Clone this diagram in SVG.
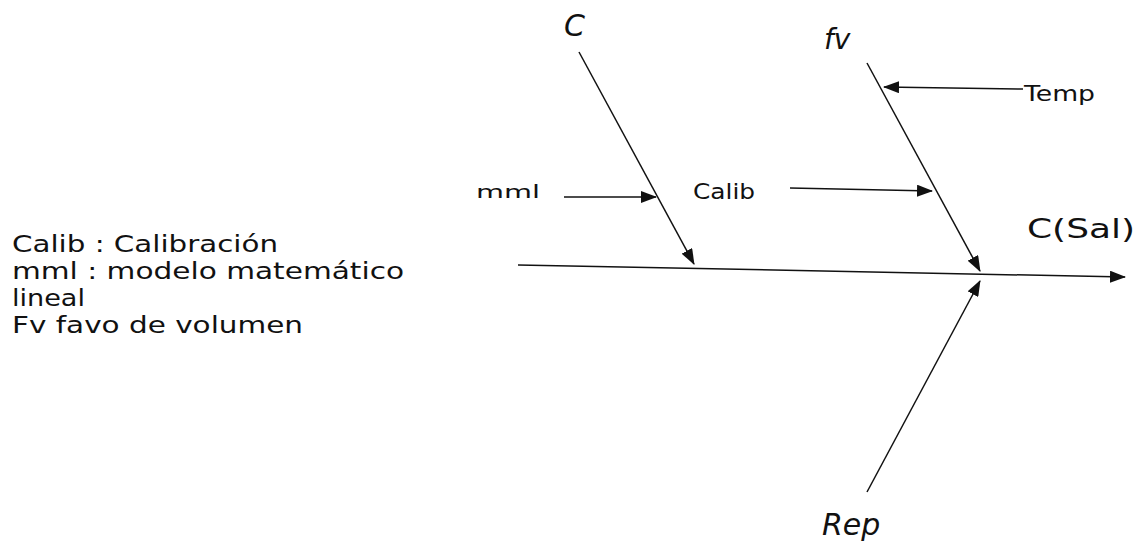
<svg xmlns="http://www.w3.org/2000/svg" width="1147" height="543" viewBox="0 0 1147 543">
<style>
.ln{stroke:#111;stroke-width:1.5;fill:none}
.t{font-family:"DejaVu Sans",Verdana,sans-serif;fill:#111}
.it{font-style:italic}
</style>
<defs>
<marker id="ah" markerWidth="16" markerHeight="12" refX="15" refY="6" orient="auto" markerUnits="userSpaceOnUse">
<path d="M0,0 L16,6 L0,12 Z" fill="#111"/>
</marker>
</defs>
<rect width="1147" height="543" fill="#fff"/>
<g id="connectors">
<line class="ln" x1="518" y1="265" x2="1125" y2="277" marker-end="url(#ah)"/>
<line class="ln" x1="579" y1="52" x2="694" y2="264" marker-end="url(#ah)"/>
<line class="ln" x1="564" y1="197" x2="656" y2="197" marker-end="url(#ah)"/>
<line class="ln" x1="790" y1="188" x2="932" y2="191" marker-end="url(#ah)"/>
<line class="ln" x1="867" y1="63" x2="980" y2="271" marker-end="url(#ah)"/>
<line class="ln" x1="1023" y1="89" x2="884" y2="87" marker-end="url(#ah)"/>
<line class="ln" x1="867" y1="492" x2="980" y2="281" marker-end="url(#ah)"/>
</g>
<g id="node-C"><text class="t it" x="564" y="36" font-size="30">C</text></g>
<g id="node-fv"><text class="t it" x="824" y="49" font-size="28">fv</text></g>
<g id="node-Rep"><text class="t it" x="822" y="535" font-size="30">Rep</text></g>
<g id="node-CSal"><text class="t" x="1027" y="238" font-size="26" textLength="108" lengthAdjust="spacingAndGlyphs">C(Sal)</text></g>
<g id="node-Temp"><text class="t" x="1024" y="101" font-size="22" textLength="71" lengthAdjust="spacingAndGlyphs">Temp</text></g>
<g id="node-Calib"><text class="t" x="693" y="199" font-size="21" textLength="62" lengthAdjust="spacingAndGlyphs">Calib</text></g>
<g id="node-mml"><text class="t" x="476" y="198" font-size="18" textLength="64" lengthAdjust="spacingAndGlyphs">mml</text></g>
<g id="legend">
<text class="t" x="12" y="252" font-size="23" textLength="266" lengthAdjust="spacingAndGlyphs">Calib : Calibración</text>
<text class="t" x="12" y="279" font-size="23" textLength="392" lengthAdjust="spacingAndGlyphs">mml : modelo matemático</text>
<text class="t" x="12" y="306" font-size="23" textLength="73" lengthAdjust="spacingAndGlyphs">lineal</text>
<text class="t" x="12" y="333" font-size="23" textLength="291" lengthAdjust="spacingAndGlyphs">Fv favo de volumen</text>
</g>
</svg>
